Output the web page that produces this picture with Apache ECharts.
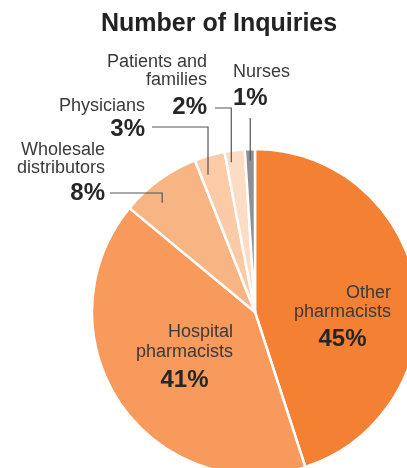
<!DOCTYPE html>
<html><head><meta charset="utf-8">
<script src="https://cdn.jsdelivr.net/npm/echarts@6/dist/echarts.min.js"></script>
<style>html,body{margin:0;padding:0;background:#fff}#c{width:407px;height:468px}</style>
</head><body><div id="c"></div>
<script>
// ---- data ----
const categories = ['Other pharmacists','Hospital pharmacists','Wholesale distributors','Physicians','Patients and families','Nurses'];
const nameLines = [['Other','pharmacists'],['Hospital','pharmacists'],['Wholesale','distributors'],['Physicians'],['Patients and','families'],['Nurses']];
const shares = [45,41,8,3,2,1];
const percentLabels = ['45%','41%','8%','3%','2%','1%'];
const colors = ['#F48033','#F79A5C','#F8B584','#FBCBA8','#FDDCC4','#8E9093'];

// ---- layout ----
const FONT = '"Liberation Sans", Arial, Helvetica, sans-serif';
const CX = 255, CY = 312, R = 163;
const labelBoxes = [
  {x:391, y:283.5, align:'right', nlh:19, plh:35, inside:true},
  {x:233, y:322,   align:'right', nlh:20, plh:36, inside:true},
  {x:105, y:141,   align:'right', nlh:18, plh:32},
  {x:145, y:97,    align:'right', nlh:18, plh:28},
  {x:207, y:53,    align:'right', nlh:18, plh:36},
  {x:233, y:63,    align:'left',  nlh:18, plh:34}
];
// leader: start x, y level, position along slice (0..1), radius factor
const leaders = [null, null,
  {sx:110, sy:193, frac:0.35, rf:0.88},
  {sx:152, sy:127, frac:0.25, rf:0.89},
  {sx:215, sy:108, frac:0.25, rf:0.93},
  {sx:null, sy:118, frac:0.5, rf:0.93}
];

const total = shares.reduce((a,b)=>a+b,0);
function anchor(i, frac, rf){
  let cum = 0; for (let k=0;k<i;k++) cum += shares[k];
  const a = 2*Math.PI*(cum + frac*shares[i])/total;
  return [CX + rf*R*Math.sin(a), CY - rf*R*Math.cos(a)];
}

const rich = {};
function richFor(i){
  const b = labelBoxes[i];
  rich['n'+i] = {fontFamily:FONT, fontSize:18, lineHeight:b.nlh, color:'#3a3a3a', align:b.align};
  rich['p'+i] = {fontFamily:FONT, fontSize:24, fontWeight:'bold', lineHeight:b.plh, color:'#262626',
                 align: b.inside ? 'center' : b.align};
  return nameLines[i].map(s=>'{n'+i+'|'+s+'}').join('\n') + '\n{p'+i+'|'+percentLabels[i]+'}';
}

const sliceData = categories.map((c,i)=>({name:c, value:shares[i], itemStyle:{color:colors[i]}}));
const labelData = categories.map((c,i)=>({
  name:c, value:shares[i],
  label:{formatter: richFor(i)},
  labelLine:{show: !labelBoxes[i].inside}
}));

const chart = echarts.init(document.getElementById('c'), null, {renderer:'canvas'});
chart.setOption({
  animation:false,
  title:{text:'Number of Inquiries', left:96, top:7,
    textStyle:{fontFamily:FONT, fontSize:25, fontWeight:'bold', color:'#222'}},
  series:[{
    type:'pie', z:2,
    center:[CX, CY], radius:[0, R],
    startAngle:90, clockwise:true,
    itemStyle:{borderColor:'#fff', borderWidth:2.5},
    label:{show:false}, labelLine:{show:false},
    emphasis:{disabled:true}, silent:true,
    data: sliceData
  },{
    type:'pie', z:5,
    center:[CX, CY], radius:[0, R],
    startAngle:90, clockwise:true,
    avoidLabelOverlap:false,
    itemStyle:{color:'rgba(0,0,0,0)', borderWidth:0},
    label:{show:true, position:'outside', rich: rich},
    labelLine:{show:true, lineStyle:{color:'#555', width:1.2}},
    emphasis:{disabled:true}, silent:true,
    labelLayout: function(p){
      const i = p.dataIndex, b = labelBoxes[i];
      const out = {x:b.x, y:b.y, align:b.align, verticalAlign:'top'};
      const L = leaders[i];
      if (L){
        const e = anchor(i, L.frac, L.rf);
        if (L.sx == null) out.labelLinePoints = [[e[0], L.sy],[e[0], e[1]]];
        else out.labelLinePoints = [[L.sx, L.sy],[e[0], L.sy],[e[0], e[1]]];
      }
      return out;
    },
    data: labelData
  }]
});
</script></body></html>
